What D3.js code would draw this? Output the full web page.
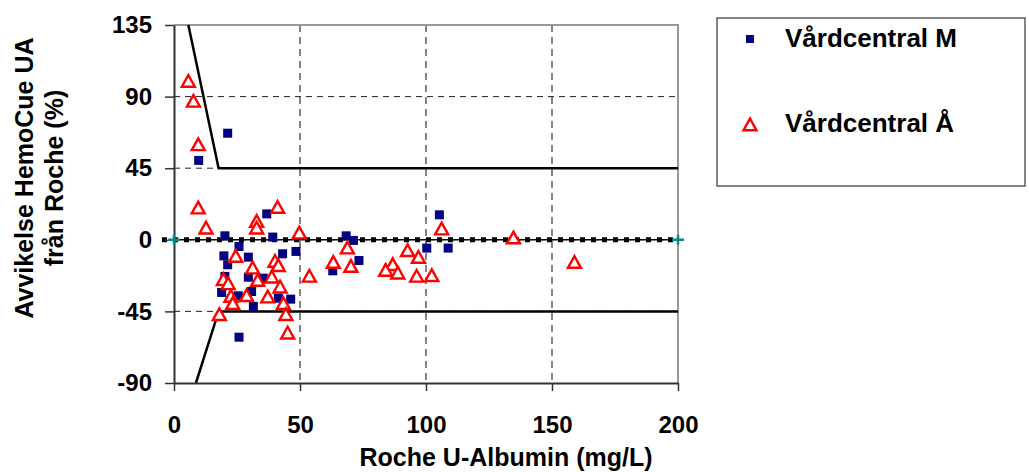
<!DOCTYPE html>
<html><head><meta charset="utf-8">
<script src="https://cdn.jsdelivr.net/npm/d3@7"></script>
<style>
html,body{margin:0;padding:0;background:#fff;}
text{font-family:"Liberation Sans",Arial,Helvetica,sans-serif;font-weight:bold;fill:#000;}
</style></head>
<body>
<svg id="chart" width="1029" height="472"></svg>
<script>
// ---- data ----
const xTicks = [0, 50, 100, 150, 200];
const yTicks = [-90, -45, 0, 45, 90, 135];
const seriesNames = ["Vårdcentral M", "Vårdcentral Å"];
const xTitle = "Roche U-Albumin (mg/L)";
const yTitleLines = ["Avvikelse HemoCue UA", "från Roche (%)"];

// Vårdcentral M (squares): [x, y]
const centralM = [
  [21.3, 67], [9.8, 49.9], [36.8, 16.3], [20.2, 2.5], [39.2, 1.7], [25.8, -4.2],
  [19.8, -10.1], [21.3, -15.7], [29.5, -10.9], [43.1, -8.8], [48.4, -7.3],
  [20.2, -23], [29.5, -23.5], [35.4, -24.1], [18.9, -33.1], [30.8, -32.5],
  [25.5, -35.2], [41.4, -36.7], [46.3, -37.3], [31.5, -41.9], [25.8, -61.2],
  [68.3, 2.5], [71.2, -0.4], [100.3, -5.2], [108.8, -5.2], [73.4, -13],
  [63, -19.5], [105.3, 15.7]
];
// Vårdcentral Å (triangles): [x, y]
const centralA = [
  [5.7, 99.5], [7.7, 87], [9.6, 59.7], [9.6, 19.9], [41.1, 20.3], [12.7, 7.3],
  [32.8, 11.5], [32.8, 7.3], [49.7, 4.2], [24.5, -10.5], [31.2, -17.8],
  [40.1, -13.6], [41.4, -16.3], [19.6, -25.1], [21.5, -27.7], [33.2, -25.6],
  [38.8, -23.5], [42.1, -29.8], [28.8, -35.2], [37.2, -36], [22.6, -35.6],
  [23.3, -40.2], [43.4, -40.2], [18, -47.1], [44.4, -47.1], [45.1, -58.7],
  [53.7, -23], [68.8, -5.2], [63.2, -14.3], [70.2, -16.8], [92.7, -6.9],
  [97, -11.1], [86.8, -15.7], [84, -19.3], [88.8, -21], [96.3, -23],
  [102.3, -22.6], [106.2, 6.7], [134.7, 1.1], [158.9, -14.3]
];
// limit lines
const upperLimit = [[5.7, 135], [17.7, 45], [200, 45]];
const lowerLimit = [[8.7, -90], [17.7, -45], [200, -45]];
const zeroLine = [[0, 0], [200, 0]];

// ---- layout ----
const svg = d3.select("#chart");
const L = 174, R = 678, T = 25, B = 383;
const x = d3.scaleLinear().domain([0, 200]).range([L, R]);
const y = d3.scaleLinear().domain([-90, 135]).range([B, T]);
const fmt = d => String(d);

// gridlines
svg.append("g").selectAll("line").data(xTicks.filter(d => d > 0 && d < 200)).join("line")
  .attr("x1", d => x(d)).attr("x2", d => x(d)).attr("y1", T).attr("y2", B)
  .attr("stroke", "#333").attr("stroke-width", 1.2).attr("stroke-dasharray", "7,5");
svg.append("g").selectAll("line").data(yTicks.filter(d => d > -90 && d < 135)).join("line")
  .attr("x1", L).attr("x2", R).attr("y1", d => y(d)).attr("y2", d => y(d))
  .attr("stroke", "#222").attr("stroke-width", 1).attr("stroke-dasharray", "6,5");

// frame (top/right)
svg.append("path").attr("d", `M${L},${T}H${R}V${B}`).attr("fill", "none")
  .attr("stroke", "#999").attr("stroke-width", 2);

// limit lines
const line = d3.line().x(d => x(d[0])).y(d => y(d[1]));
[upperLimit, lowerLimit].forEach(pts => {
  svg.append("path").attr("d", line(pts)).attr("fill", "none")
    .attr("stroke", "#000").attr("stroke-width", 2.5);
});

// zero line: thin line + square dots
svg.append("path").attr("d", line(zeroLine)).attr("stroke", "#000").attr("stroke-width", 1.5).attr("fill", "none");
svg.append("path").attr("d", `M${x(0) - 12},${y(0)}H${x(200)}`).attr("stroke", "#000")
  .attr("stroke-width", 5).attr("stroke-dasharray", "5,6").attr("fill", "none");

// axes
const yAxis = svg.append("g").attr("transform", `translate(${L},0)`)
  .call(d3.axisLeft(y).tickValues(yTicks).tickFormat(fmt).tickSize(9).tickPadding(13).tickSizeOuter(0));
yAxis.select(".domain").attr("stroke", "#333").attr("stroke-width", 2);
yAxis.selectAll(".tick line").attr("stroke", "#333").attr("stroke-width", 1.5);
yAxis.selectAll(".tick text").attr("font-size", 24).attr("font-family", "Liberation Sans, Arial, sans-serif")
  .attr("font-weight", "bold").attr("fill", "#000");

const xAxis = svg.append("g").attr("transform", `translate(0,${B})`)
  .call(d3.axisBottom(x).tickValues(xTicks).tickFormat(fmt).tickSize(8).tickSizeOuter(0));
xAxis.select(".domain").attr("stroke", "#333").attr("stroke-width", 2);
xAxis.selectAll(".tick line").attr("stroke", "#333").attr("stroke-width", 1.5);
xAxis.selectAll(".tick text").attr("font-size", 24).attr("font-family", "Liberation Sans, Arial, sans-serif")
  .attr("font-weight", "bold").attr("fill", "#000").attr("y", 50).attr("dy", 0);

// teal end markers on zero line
zeroLine.forEach(p => {
  svg.append("path").attr("d", `M${x(p[0]) - 6},${y(p[1])}h12M${x(p[0])},${y(p[1]) - 5}v10`)
    .attr("stroke", "#0b8a8a").attr("stroke-width", 2.5);
});

// data markers
const sq = 9;
svg.append("g").selectAll("rect").data(centralM).join("rect")
  .attr("x", d => x(d[0]) - sq / 2).attr("y", d => y(d[1]) - sq / 2)
  .attr("width", sq).attr("height", sq).attr("fill", "#000080");

const tri = (cx, cy, w) => {
  const h = w * 0.9;
  return `M${cx},${cy - h * 0.55}L${cx + w / 2},${cy + h * 0.45}L${cx - w / 2},${cy + h * 0.45}Z`;
};
svg.append("g").selectAll("path").data(centralA).join("path")
  .attr("d", d => tri(x(d[0]), y(d[1]), 13))
  .attr("fill", "#fff").attr("stroke", "#ff0000").attr("stroke-width", 2.4);

// axis titles
svg.append("text").attr("x", 506).attr("y", 466).attr("text-anchor", "middle")
  .attr("font-size", 25).text(xTitle);
const yt = svg.append("text").attr("transform", "translate(0,178) rotate(-90)")
  .attr("text-anchor", "middle").attr("font-size", 25);
yt.append("tspan").attr("x", 0).attr("y", 33).text(yTitleLines[0]);
yt.append("tspan").attr("x", 0).attr("y", 63).text(yTitleLines[1]);

// legend
svg.append("rect").attr("x", 717).attr("y", 18).attr("width", 308).attr("height", 168)
  .attr("fill", "#fff").attr("stroke", "#333").attr("stroke-width", 1.2);
svg.append("rect").attr("x", 746).attr("y", 35).attr("width", 8).attr("height", 8).attr("fill", "#000080");
svg.append("path").attr("d", tri(750, 125, 13)).attr("fill", "#fff").attr("stroke", "#ff0000").attr("stroke-width", 2.4);
svg.append("text").attr("x", 785).attr("y", 47).attr("font-size", 26).text(seriesNames[0]);
svg.append("text").attr("x", 785).attr("y", 132).attr("font-size", 26).text(seriesNames[1]);
</script>
</body></html>
